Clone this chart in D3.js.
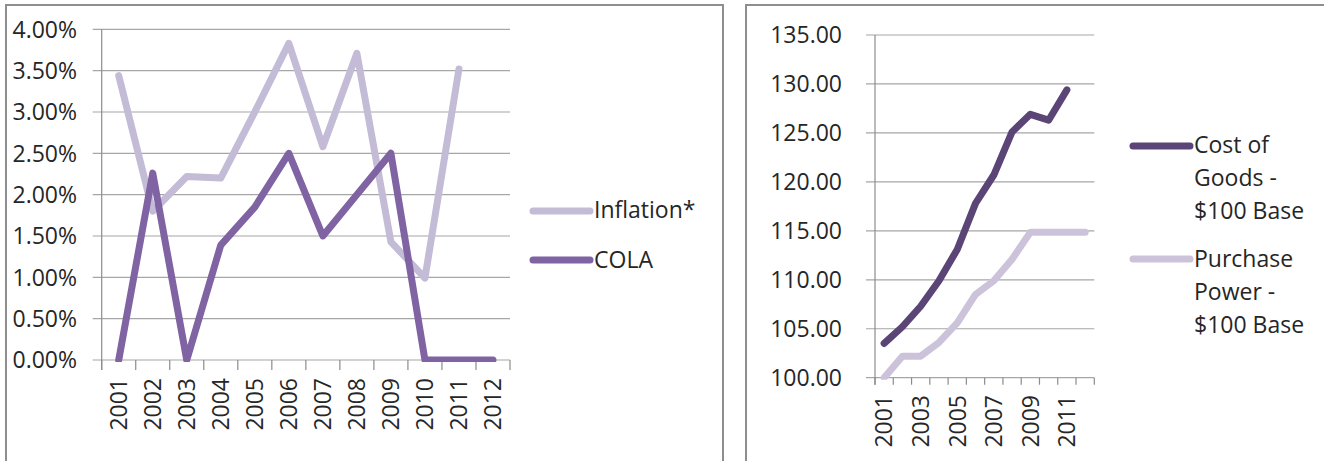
<!DOCTYPE html>
<html>
<head>
<meta charset="utf-8">
<script src="https://cdn.jsdelivr.net/npm/d3@7"></script>
<style>
  body { margin: 0; background: #fff; }
  svg text { font-family: "Open Sans", sans-serif; fill: #262626; }
</style>
</head>
<body>
<svg id="chart" width="1324" height="461"></svg>
<script>
// data
var years = ["2001", "2002", "2003", "2004", "2005", "2006", "2007", "2008", "2009", "2010", "2011", "2012"];
var inflation = [3.44, 1.80, 2.22, 2.20, 3.00, 3.83, 2.58, 3.71, 1.43, 0.99, 3.52, null];
var cola = [0, 2.26, 0, 1.39, 1.85, 2.50, 1.50, 2.00, 2.50, 0, 0, 0];
var costOfGoods = [103.5, 105.2, 107.3, 109.9, 113.1, 117.8, 120.7, 125.1, 126.9, 126.3, 129.4, null];
var purchasePower = [100.0, 102.2, 102.2, 103.6, 105.6, 108.5, 109.9, 112.1, 114.85, 114.85, 114.85, 114.85];
var pctTicks = [0, 0.5, 1, 1.5, 2, 2.5, 3, 3.5, 4];
var indexTicks = [100, 105, 110, 115, 120, 125, 130, 135];
var rightYearLabels = ["2001", "2003", "2005", "2007", "2009", "2011"];

var svg = d3.select("#chart");

// panel frames
svg.append("rect").attr("x", 6).attr("y", 5).attr("width", 717).attr("height", 470)
    .attr("fill", "none").attr("stroke", "#8e8e8e").attr("stroke-width", 2);
svg.append("rect").attr("x", 746).attr("y", 5).attr("width", 600).attr("height", 470)
    .attr("fill", "none").attr("stroke", "#8e8e8e").attr("stroke-width", 2);

function drawPanel(opt) {
    var g = svg.append("g");
    var x = d3.scaleBand().domain(years).range([opt.left, opt.right]);
    var y = d3.scaleLinear().domain(opt.domain).range([opt.bottom, opt.top]);

    // gridlines + y ticks
    g.selectAll(".grid").data(opt.yTicks).enter().append("line")
        .attr("x1", opt.left - 9).attr("x2", opt.right)
        .attr("y1", function (d) { return y(d); })
        .attr("y2", function (d) { return y(d); })
        .attr("stroke", "#a6a6a6").attr("stroke-width", 1.2);

    g.selectAll(".ylab").data(opt.yTicks).enter().append("text")
        .attr("x", opt.labelRight)
        .attr("y", function (d) { return y(d); })
        .attr("dy", "0.36em")
        .attr("text-anchor", "end")
        .style("font-size", "23px")
        .text(opt.fmt);

    // y axis line
    g.append("line").attr("x1", opt.left).attr("x2", opt.left)
        .attr("y1", opt.top).attr("y2", opt.bottom + opt.tick)
        .attr("stroke", "#8c8c8c").attr("stroke-width", 1.2);

    // x ticks at band edges
    var edges = years.map(function (d) { return x(d); }).concat([opt.right]);
    g.selectAll(".xtick").data(edges).enter().append("line")
        .attr("x1", function (d) { return d; }).attr("x2", function (d) { return d; })
        .attr("y1", opt.bottom).attr("y2", opt.bottom + opt.tick)
        .attr("stroke", "#8c8c8c").attr("stroke-width", 1.2);

    g.selectAll(".xlab").data(opt.xLabels).enter().append("text")
        .attr("transform", function (d) {
            return "translate(" + (x(d) + x.bandwidth() / 2) + "," + opt.xLabelTop + ") rotate(-90)";
        })
        .attr("dy", "0.36em")
        .attr("text-anchor", "end")
        .style("font-size", "23px")
        .text(function (d) { return d; });

    // clip so lines stop at the plot floor
    var clipId = "clip" + opt.id;
    svg.append("clipPath").attr("id", clipId).append("rect")
        .attr("x", opt.left).attr("y", opt.top - 10)
        .attr("width", opt.right - opt.left + 10).attr("height", opt.bottom - opt.top + 12);

    var line = d3.line()
        .defined(function (d) { return d != null; })
        .x(function (d, i) { return x(years[i]) + x.bandwidth() / 2; })
        .y(function (d) { return y(d); });

    opt.series.forEach(function (s) {
        g.append("path").datum(s.values)
            .attr("clip-path", "url(#" + clipId + ")")
            .attr("d", line)
            .attr("fill", "none")
            .attr("stroke", s.color)
            .attr("stroke-width", 7)
            .attr("stroke-linejoin", "round")
            .attr("stroke-linecap", "round");
    });

    // legend
    opt.series.forEach(function (s) {
        g.append("line")
            .attr("x1", opt.legendX).attr("x2", opt.legendX + 57)
            .attr("y1", s.ly).attr("y2", s.ly)
            .attr("stroke", s.color).attr("stroke-width", 7)
            .attr("stroke-linecap", "round");
        var t = g.append("text")
            .attr("x", opt.legendX + 61)
            .attr("y", s.ty)
            .style("font-size", "23px");
        s.lines.forEach(function (txt, i) {
            t.append("tspan").attr("x", opt.legendX + 61).attr("dy", i === 0 ? 0 : 33).text(txt);
        });
    });
}

drawPanel({
    id: "L",
    left: 101.7, right: 510, top: 29.3, bottom: 360,
    domain: [0, 4], yTicks: pctTicks, labelRight: 77, tick: 10,
    fmt: function (d) { return d.toFixed(2) + "%"; },
    xLabels: years, xLabelTop: 378,
    legendX: 533,
    series: [
        { values: inflation, color: "#c4bbd6", lines: ["Inflation*"], ly: 211, ty: 218 },
        { values: cola, color: "#7f63a2", lines: ["COLA"], ly: 260, ty: 268 }
    ]
});

drawPanel({
    id: "R",
    left: 875, right: 1094.3, top: 35, bottom: 377.7,
    domain: [100, 135], yTicks: indexTicks, labelRight: 842, tick: 7,
    fmt: function (d) { return d.toFixed(2); },
    xLabels: rightYearLabels, xLabelTop: 395,
    legendX: 1133,
    series: [
        { values: costOfGoods, color: "#5a4576", lines: ["Cost of", "Goods -", "$100 Base"], ly: 146, ty: 153 },
        { values: purchasePower, color: "#ccc3db", lines: ["Purchase", "Power -", "$100 Base"], ly: 259, ty: 267 }
    ]
});
</script>
</body>
</html>
